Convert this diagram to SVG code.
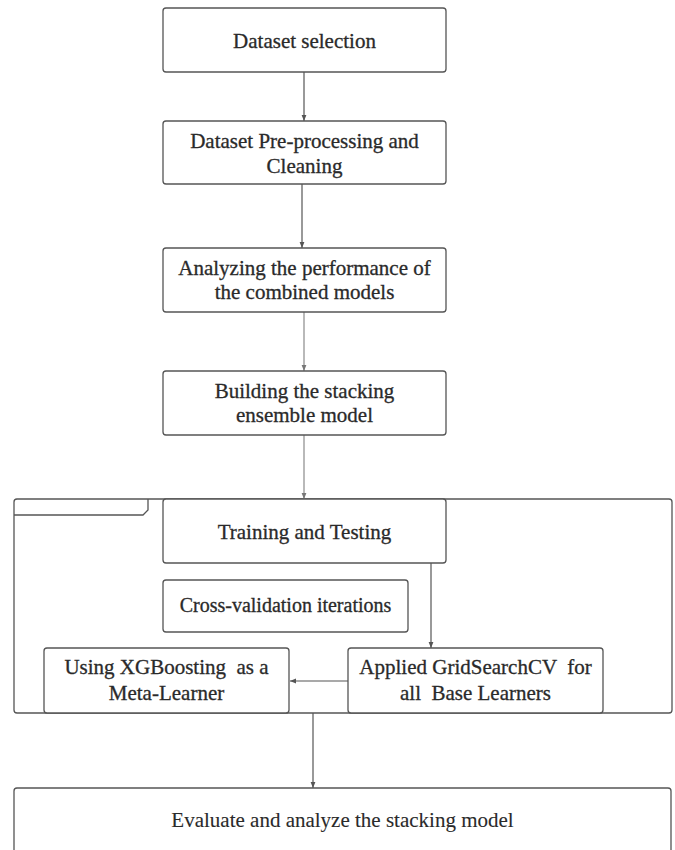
<svg xmlns="http://www.w3.org/2000/svg" width="675" height="850" viewBox="0 0 675 850">
<style>
.box{fill:#fff;stroke:#555;stroke-width:1.3}
.frame{fill:none;stroke:#555;stroke-width:1.3}
.t{font-family:"Liberation Serif","Times New Roman",serif;font-size:21px;fill:#2a2a2a;stroke:#2a2a2a;stroke-width:0.3;text-anchor:middle;white-space:pre}
.t2{stroke-width:0.1}
.c{stroke:#555;stroke-width:1.2;fill:none}
.cl{stroke:#8a8a8a;stroke-width:1.2;fill:none}
</style>
<defs>
<marker id="ah" viewBox="0 0 10 10" refX="10" refY="5" markerWidth="6" markerHeight="6" orient="auto" markerUnits="userSpaceOnUse">
<path d="M0,1 L10,5 L0,9 Z" fill="#555"/>
</marker>
<marker id="ahl" viewBox="0 0 10 10" refX="10" refY="5" markerWidth="6" markerHeight="6" orient="auto" markerUnits="userSpaceOnUse">
<path d="M0,1 L10,5 L0,9 Z" fill="#777"/>
</marker>
</defs>
<rect width="675" height="850" fill="#fff"/>
<g id="container">
<rect class="frame" x="14" y="499" width="658" height="214" rx="3"/>
<path class="frame" d="M14,515 L143,515 L148,510 L148,499"/>
</g>
<g id="connectors">
<line class="c" x1="304" y1="72" x2="304" y2="121" marker-end="url(#ah)"/>
<line class="c" x1="302" y1="184" x2="302" y2="248" marker-end="url(#ah)"/>
<line class="cl" x1="304" y1="312" x2="304" y2="371" marker-end="url(#ahl)"/>
<line class="cl" x1="304" y1="435" x2="304" y2="499" marker-end="url(#ahl)"/>
<line class="c" x1="431" y1="563" x2="431" y2="648" marker-end="url(#ah)"/>
<line class="c" x1="348" y1="681" x2="290" y2="681" marker-end="url(#ah)"/>
<line class="c" x1="313" y1="713" x2="313" y2="788" marker-end="url(#ah)"/>
</g>
<g id="n1">
<rect class="box" x="163" y="8" width="283" height="64" rx="3"/>
<text class="t" x="304.5" y="48">Dataset selection</text>
</g>
<g id="n2">
<rect class="box" x="163" y="121" width="283" height="63" rx="3"/>
<text class="t" x="304.5" y="148">Dataset Pre-processing and</text>
<text class="t" x="304.5" y="173">Cleaning</text>
</g>
<g id="n3">
<rect class="box" x="163" y="248" width="283" height="64" rx="3"/>
<text class="t" x="304.5" y="275">Analyzing the performance of</text>
<text class="t" x="304.5" y="299">the combined models</text>
</g>
<g id="n4">
<rect class="box" x="163" y="371" width="283" height="64" rx="3"/>
<text class="t" x="304.5" y="398">Building the stacking</text>
<text class="t" x="304.5" y="422">ensemble model</text>
</g>
<g id="n5">
<rect class="box" x="163" y="499" width="283" height="64" rx="3"/>
<text class="t" x="304.5" y="539">Training and Testing</text>
</g>
<g id="n6">
<rect class="box" x="163" y="580" width="245" height="52" rx="3"/>
<text class="t" x="285.5" y="612" style="font-size:20px">Cross-validation iterations</text>
</g>
<g id="n7">
<rect class="box" x="44" y="648" width="245" height="65" rx="3"/>
<text class="t" x="166.5" y="674">Using XGBoosting  as a</text>
<text class="t" x="166.5" y="700">Meta-Learner</text>
</g>
<g id="n8">
<rect class="box" x="348" y="648" width="255" height="65" rx="3"/>
<text class="t" x="475.5" y="674">Applied GridSearchCV  for</text>
<text class="t" x="475.5" y="700">all  Base Learners</text>
</g>
<g id="n9">
<rect class="box" x="14" y="788" width="657" height="80" rx="3"/>
<text class="t t2" x="342.5" y="827">Evaluate and analyze the stacking model</text>
</g>
</svg>
